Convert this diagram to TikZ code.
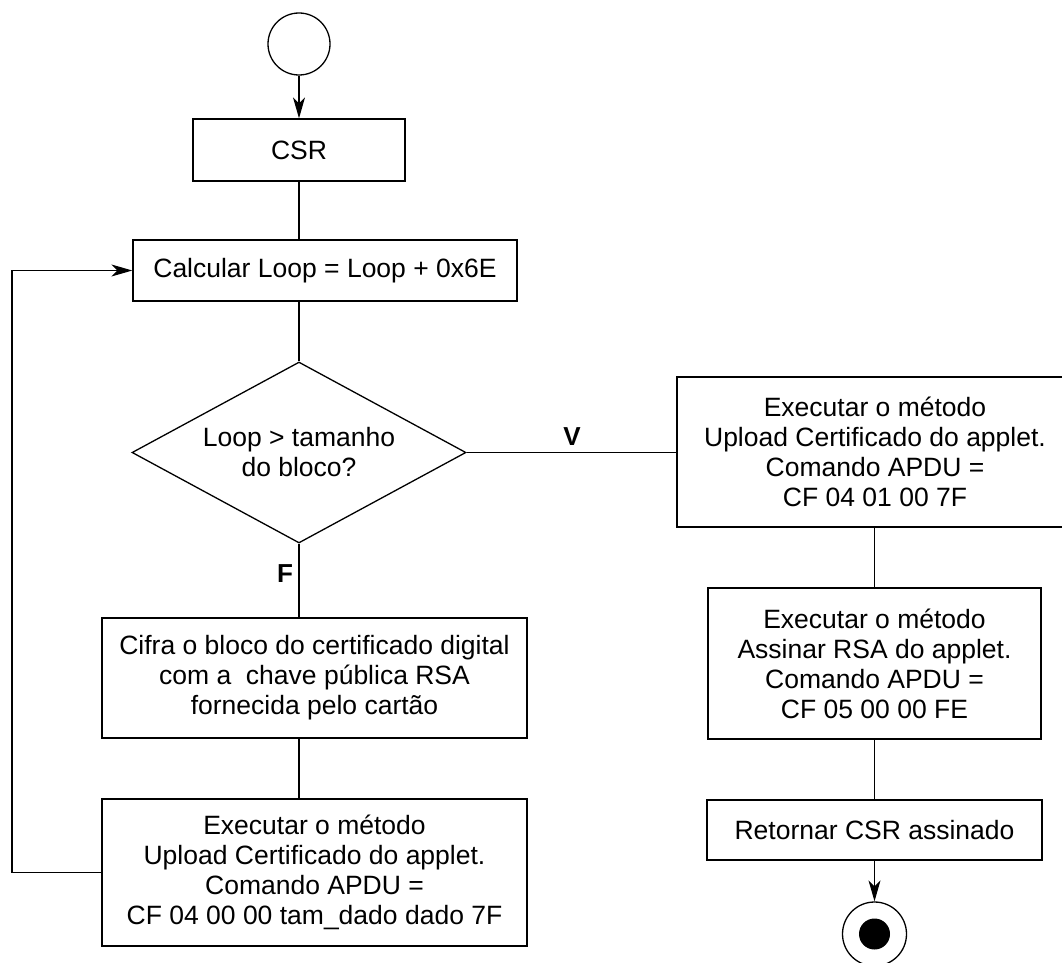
\documentclass[tikz,border=0pt]{standalone}
\usepackage{fontspec}
\setmainfont{Liberation Sans}
\usetikzlibrary{shapes.geometric,arrows.meta}
\begin{document}
\begin{tikzpicture}[x=1pt,y=-1pt,
  every node/.style={font=\fontsize{26.5}{30}\selectfont},
  box/.style={draw, line width=1.3pt, rectangle, align=center, inner sep=0pt},
  dec/.style={draw, line width=1.3pt, diamond, aspect=1.845, inner sep=0pt, align=center, minimum width=334pt, minimum height=181pt},
  conn/.style={line width=1.3pt},
  arr/.style={line width=1.3pt, -{Stealth[length=21pt,width=12pt,inset=6pt]}},
  lbl/.style={font=\fontsize{26}{30}\selectfont\bfseries}]
\useasboundingbox (0,0) rectangle (1062,963);
% nodes
\node[draw, line width=1.3pt, circle, minimum size=62pt, inner sep=0pt] (start) at (299,44) {};
\node[box, minimum width=212pt, minimum height=62pt] (csr) at (299,150) {CSR};
\node[box, minimum width=384pt, minimum height=61pt] (calc) at (325,270.5) {Calcular Loop = Loop + 0x6E};
\node[dec] (dia) at (299,452.5) {Loop > tamanho\\do bloco?};
\node[box, minimum width=396pt, minimum height=150pt] (r1) at (875,452) {Executar o método\\Upload Certificado do applet.\\Comando APDU =\\CF 04 01 00 7F};
\node[box, minimum width=333pt, minimum height=151pt] (r2) at (874.5,663.5) {Executar o método\\Assinar RSA do applet.\\Comando APDU =\\CF 05 00 00 FE};
\node[box, minimum width=335pt, minimum height=60pt] (r3) at (874.5,830) {Retornar CSR assinado};
\node[draw, line width=1.3pt, circle, minimum size=64pt, inner sep=0pt] (end) at (874.5,934) {};
\node[circle, fill=black, minimum size=31pt, inner sep=0pt] (endin) at (874.5,934) {};
\node[box, minimum width=425pt, minimum height=120pt] (l1) at (314.5,678) {Cifra o bloco do certificado digital\\com a\ \ chave pública RSA\\fornecida pelo cartão};
\node[box, minimum width=425pt, minimum height=147pt] (l2) at (314.5,872.5) {Executar o método\\Upload Certificado do applet.\\Comando APDU =\\CF 04 00 00 tam\_dado dado 7F};
\node[lbl] (vl) at (572,437) {V};
\node[lbl] (fl) at (285,574) {F};
\coordinate (loopx) at (12,0);
% connectors
\draw[arr] (start) -- (csr);
\draw[conn] (csr.south) -- (csr.south |- calc.north);
\draw[conn] (calc.south -| dia.north) -- (dia.north);
\draw[conn] (dia.east) -- (dia.east -| r1.west);
\draw[conn] (dia.south) -- (dia.south |- l1.north);
\draw[conn] (l1.south -| dia.south) -- (l2.north -| dia.south);
\draw[arr] (l2.west) -- (l2.west -| loopx) |- (calc.west);
\draw[conn] (r2.north |- r1.south) -- (r2.north);
\draw[conn] (r2.south) -- (r3.north);
\draw[arr] (r3.south) -- (end.north);
\end{tikzpicture}
\end{document}
